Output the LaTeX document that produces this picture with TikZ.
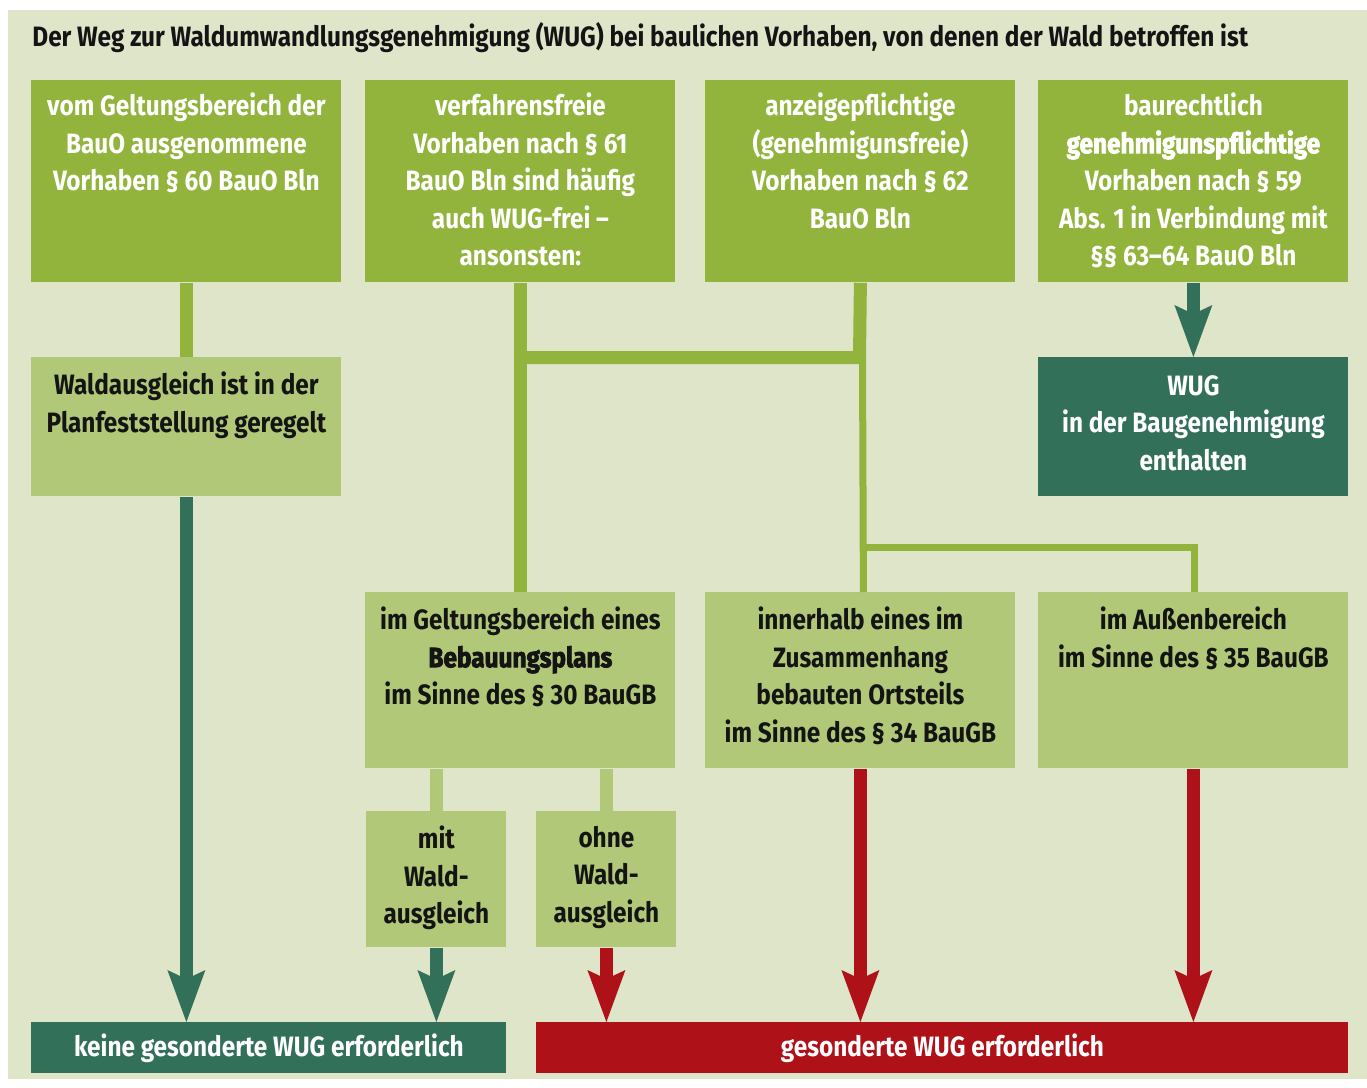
\documentclass[tikz,border=0pt]{standalone}
\usepackage{fontspec}
\setmainfont{Fira Sans}[FakeStretch=0.87]
\newfontfamily\heavyfont{Fira Sans}[FakeStretch=0.87,FakeBold=2.6]
\usetikzlibrary{arrows.meta}

\definecolor{bggreen}{HTML}{DFE5C8}
\definecolor{midgreen}{HTML}{92B43D}
\definecolor{lightgreen}{HTML}{B0C877}
\definecolor{wugteal}{HTML}{33705A}
\definecolor{wugred}{HTML}{AE1117}
\definecolor{darktext}{HTML}{141414}

\tikzset{
  box/.style={rectangle, inner sep=0pt, anchor=north west},
  topbox/.style={box, fill=midgreen, minimum width=155pt, minimum height=101pt},
  midbox/.style={box, fill=lightgreen, minimum width=155pt, minimum height=88pt},
  smallbox/.style={box, fill=lightgreen, minimum width=70pt, minimum height=68pt},
  endbox/.style={box, minimum height=25.5pt, text=white, font=\bfseries\fontsize{14}{18.75}\selectfont},
  boxtext/.style={anchor=north, inner sep=0pt, align=center, font=\bfseries\fontsize{14}{18.75}\selectfont},
  whitetext/.style={boxtext, text=white},
  darkboxtext/.style={boxtext, text=darktext},
  conn/.style={draw=midgreen, line width=6.5pt},
  connthin/.style={draw=midgreen, line width=3.5pt},
  lightconn/.style={draw=lightgreen, line width=6.5pt},
  tealarrow/.style={draw=wugteal, line width=6.5pt, -{Stealth[length=26pt, width=19pt, inset=4.5pt, line width=0pt]}},
  redarrow/.style={draw=wugred, line width=6.5pt, -{Stealth[length=26pt, width=19pt, inset=4.5pt, line width=0pt]}}
}

\begin{document}
\begin{tikzpicture}[x=0.5pt,y=-0.5pt]
  \useasboundingbox (0,0) rectangle (1367,1088);
  \fill[bggreen] (8,10) rectangle (1367,1079);

  % Title
  \node (title) at (32,38) [anchor=west, inner sep=0pt, text=darktext, font=\bfseries\fontsize{14}{16}\selectfont]
    {Der Weg zur Waldumwandlungsgenehmigung (WUG) bei baulichen Vorhaben, von denen der Wald betroffen ist};

  % Nodes
  \node (b1) at (31,80) [topbox] {};
  \node (b2) at (365,80) [topbox] {};
  \node (b3) at (705,80) [topbox] {};
  \node (b4) at (1038,80) [topbox] {};
  \node (wald) at (31,357) [box, fill=lightgreen, minimum width=155pt, minimum height=69.5pt] {};
  \node (wug) at (1038,357) [box, fill=wugteal, minimum width=155pt, minimum height=69.5pt] {};
  \node (bplan) at (365,592) [midbox] {};
  \node (inner) at (705,592) [midbox] {};
  \node (aussen) at (1038,592) [midbox] {};
  \node (mit) at (366,811) [smallbox] {};
  \node (ohne) at (536,811) [smallbox] {};
  \node (keine) at (31,1022) [endbox, fill=wugteal, minimum width=237.5pt] {keine gesonderte WUG erforderlich};
  \node (ges) at (536,1022) [endbox, fill=wugred, minimum width=406pt] {gesonderte WUG erforderlich};

  % Texts
  \node (b1txt) at ([yshift=-6.3pt]b1.north) [whitetext] {vom Geltungsbereich der\\BauO ausgenommene\\Vorhaben § 60 BauO Bln};
  \node (b2txt) at ([yshift=-6.3pt]b2.north) [whitetext] {verfahrensfreie\\Vorhaben nach § 61\\BauO Bln sind häufig\\auch WUG-frei –\\ansonsten:};
  \node (b3txt) at ([yshift=-6.3pt]b3.north) [whitetext] {anzeigepflichtige\\(genehmigunsfreie)\\Vorhaben nach § 62\\BauO Bln};
  \node (b4txt) at ([yshift=-6.3pt]b4.north) [whitetext] {baurechtlich\\{\heavyfont genehmigunspflichtige}\\Vorhaben nach § 59\\Abs. 1 in Verbindung mit\\§§ 63–64 BauO Bln};
  \node (waldtxt) at ([yshift=-7.3pt]wald.north) [darkboxtext] {Waldausgleich ist in der\\Planfeststellung geregelt};
  \node (wugtxt) at ([yshift=-9pt]wug.north) [whitetext] {WUG\\in der Baugenehmigung\\enthalten};
  \node (bplantxt) at ([yshift=-7.3pt]bplan.north) [darkboxtext] {im Geltungsbereich eines\\{\heavyfont Bebauungsplans}\\im Sinne des § 30 BauGB};
  \node (innertxt) at ([yshift=-7.3pt]inner.north) [darkboxtext] {innerhalb eines im\\Zusammenhang\\bebauten Ortsteils\\im Sinne des § 34 BauGB};
  \node (aussentxt) at ([yshift=-7.3pt]aussen.north) [darkboxtext] {im Außenbereich\\im Sinne des § 35 BauGB};
  \node (mittxt) at ([yshift=-7.3pt]mit.north) [darkboxtext] {mit\\Wald-\\ausgleich};
  \node (ohnetxt) at ([yshift=-7.3pt]ohne.north) [darkboxtext] {ohne\\Wald-\\ausgleich};

  % Junctions
  \coordinate (j1) at (859.5,357.5);
  \coordinate (j2) at (862.5,547.5);

  % Edges
  \draw[conn] (b1.south) -- (wald.north);
  \draw[conn] (b2.south) -- (bplan.north);
  \draw[conn] (b3.south) -- (j1) -- (j1 -| b2.south);
  \draw[connthin] ([xshift=1.5pt]j1) -- ([xshift=1.5pt]inner.north);
  \draw[connthin] (j2) -| ([xshift=0.5pt]aussen.north);
  \draw[lightconn] (bplan.south -| mit.north) -- (mit.north);
  \draw[lightconn] (bplan.south -| ohne.north) -- (ohne.north);
  \draw[tealarrow] (b4.south) -- (wug.north);
  \draw[tealarrow] (wald.south) -- (wald.south |- keine.north);
  \draw[tealarrow] (mit.south) -- (mit.south |- keine.north);
  \draw[redarrow] (ohne.south) -- (ohne.south |- ges.north);
  \draw[redarrow] (inner.south) -- (inner.south |- ges.north);
  \draw[redarrow] (aussen.south) -- (aussen.south |- ges.north);
\end{tikzpicture}
\end{document}
